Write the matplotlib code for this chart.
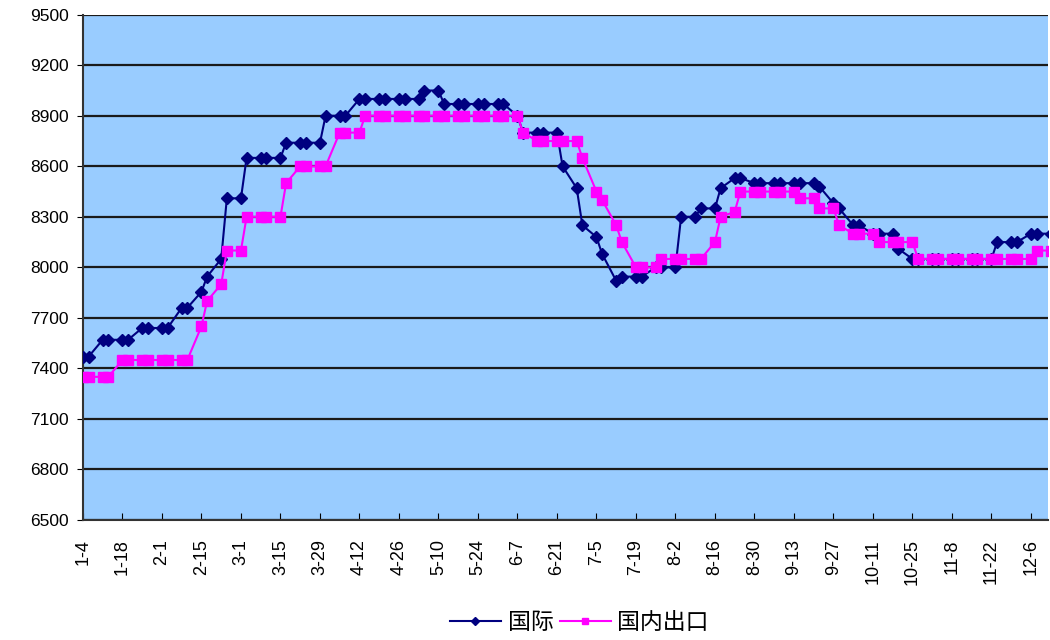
import numpy as np
import matplotlib
matplotlib.use("Agg")
import matplotlib.pyplot as plt

# two quotes per week (day 0 and day 2 of each week, counted from 1-4)
week_count = 50
days = np.array([7 * w + k for w in range(week_count) for k in (0, 2)][:99])

intl = [7470, 7470, 7570, 7570, 7570, 7570, 7640, 7640, 7640, 7640,
        7760, 7760, 7855, 7945, 8050, 8410, 8410, 8650, 8650, 8650,
        8650, 8740, 8740, 8740, 8740, 8900, 8900, 8900, 9000, 9000,
        9000, 9000, 9000, 9000, 9000, 9050, 9050, 8970, 8970, 8970,
        8970, 8970, 8970, 8970, 8900, 8800, 8800, 8800, 8800, 8600,
        8470, 8250, 8180, 8080, 7920, 7945, 7945, 7945, 8000, 8000,
        8000, 8300, 8300, 8350, 8350, 8470, 8530, 8530, 8500, 8500,
        8500, 8500, 8500, 8500, 8500, 8480, 8380, 8350, 8250, 8250,
        8200, 8200, 8200, 8110, 8050, 8050, 8050, 8050, 8050, 8050,
        8050, 8050, 8050, 8150, 8150, 8150, 8200, 8200, 8200]

export = [7350, 7350, 7350, 7350, 7450, 7450, 7450, 7450, 7450, 7450,
          7450, 7450, 7650, 7800, 7900, 8100, 8100, 8300, 8300, 8300,
          8300, 8500, 8600, 8600, 8600, 8600, 8800, 8800, 8800, 8900,
          8900, 8900, 8900, 8900, 8900, 8900, 8900, 8900, 8900, 8900,
          8900, 8900, 8900, 8900, 8900, 8800, 8750, 8750, 8750, 8750,
          8750, 8650, 8450, 8400, 8250, 8150, 8000, 8000, 8000, 8050,
          8050, 8050, 8050, 8050, 8150, 8300, 8330, 8450, 8450, 8450,
          8450, 8450, 8450, 8410, 8410, 8350, 8350, 8250, 8200, 8200,
          8200, 8150, 8150, 8150, 8150, 8050, 8050, 8050, 8050, 8050,
          8050, 8050, 8050, 8050, 8050, 8050, 8050, 8100, 8100]

tick_labels = ["1-4", "1-18", "2-1", "2-15", "3-1", "3-15", "3-29", "4-12",
               "4-26", "5-10", "5-24", "6-7", "6-21", "7-5", "7-19", "8-2",
               "8-16", "8-30", "9-13", "9-27", "10-11", "10-25", "11-8",
               "11-22", "12-6"]

series_names = ["国际", "国内出口"]


def main():
    plt.rcParams['font.family'] = ['Liberation Sans', 'Noto Sans CJK SC', 'DejaVu Sans']
    fig = plt.figure(figsize=(10.5, 6.4), dpi=100)
    ax = fig.add_axes([0.079, 0.1875, 0.919, 0.7895])
    ax.set_facecolor('#99CCFF')

    ax.plot(days, intl, color='#000080', lw=1.5, marker='D', ms=6.5,
            label=series_names[0], zorder=3)
    ax.plot(days, export, color='#FF00FF', lw=1.5, marker='s', ms=7,
            label=series_names[1], zorder=4)

    ax.set_ylim(6500, 9500)
    ax.set_yticks(np.arange(6500, 9501, 300))
    ax.set_xlim(0, 342)
    ax.set_xticks(np.arange(len(tick_labels)) * 14)
    ax.set_xticklabels(tick_labels, rotation=90)

    ax.grid(axis='y', color='#1a1a1a', lw=1.6)
    ax.set_axisbelow(True)
    for side in ('top', 'right'):
        ax.spines[side].set_visible(False)
    for side in ('left', 'bottom'):
        ax.spines[side].set_color('#333333')
        ax.spines[side].set_linewidth(1.5)

    ax.tick_params(axis='x', direction='in', length=5, labelsize=13, pad=14)
    ax.tick_params(axis='y', direction='out', length=4, labelsize=12.5, pad=6)

    fig.legend(loc='center', bbox_to_anchor=(0.552, 0.027), ncol=2,
               frameon=False, fontsize=16.5, handlelength=2.2,
               columnspacing=0.3, handletextpad=0.3, markerscale=0.65,
               borderpad=0.1)

    fig.savefig('out.png', dpi=100, facecolor='white')


if __name__ == '__main__':
    main()
